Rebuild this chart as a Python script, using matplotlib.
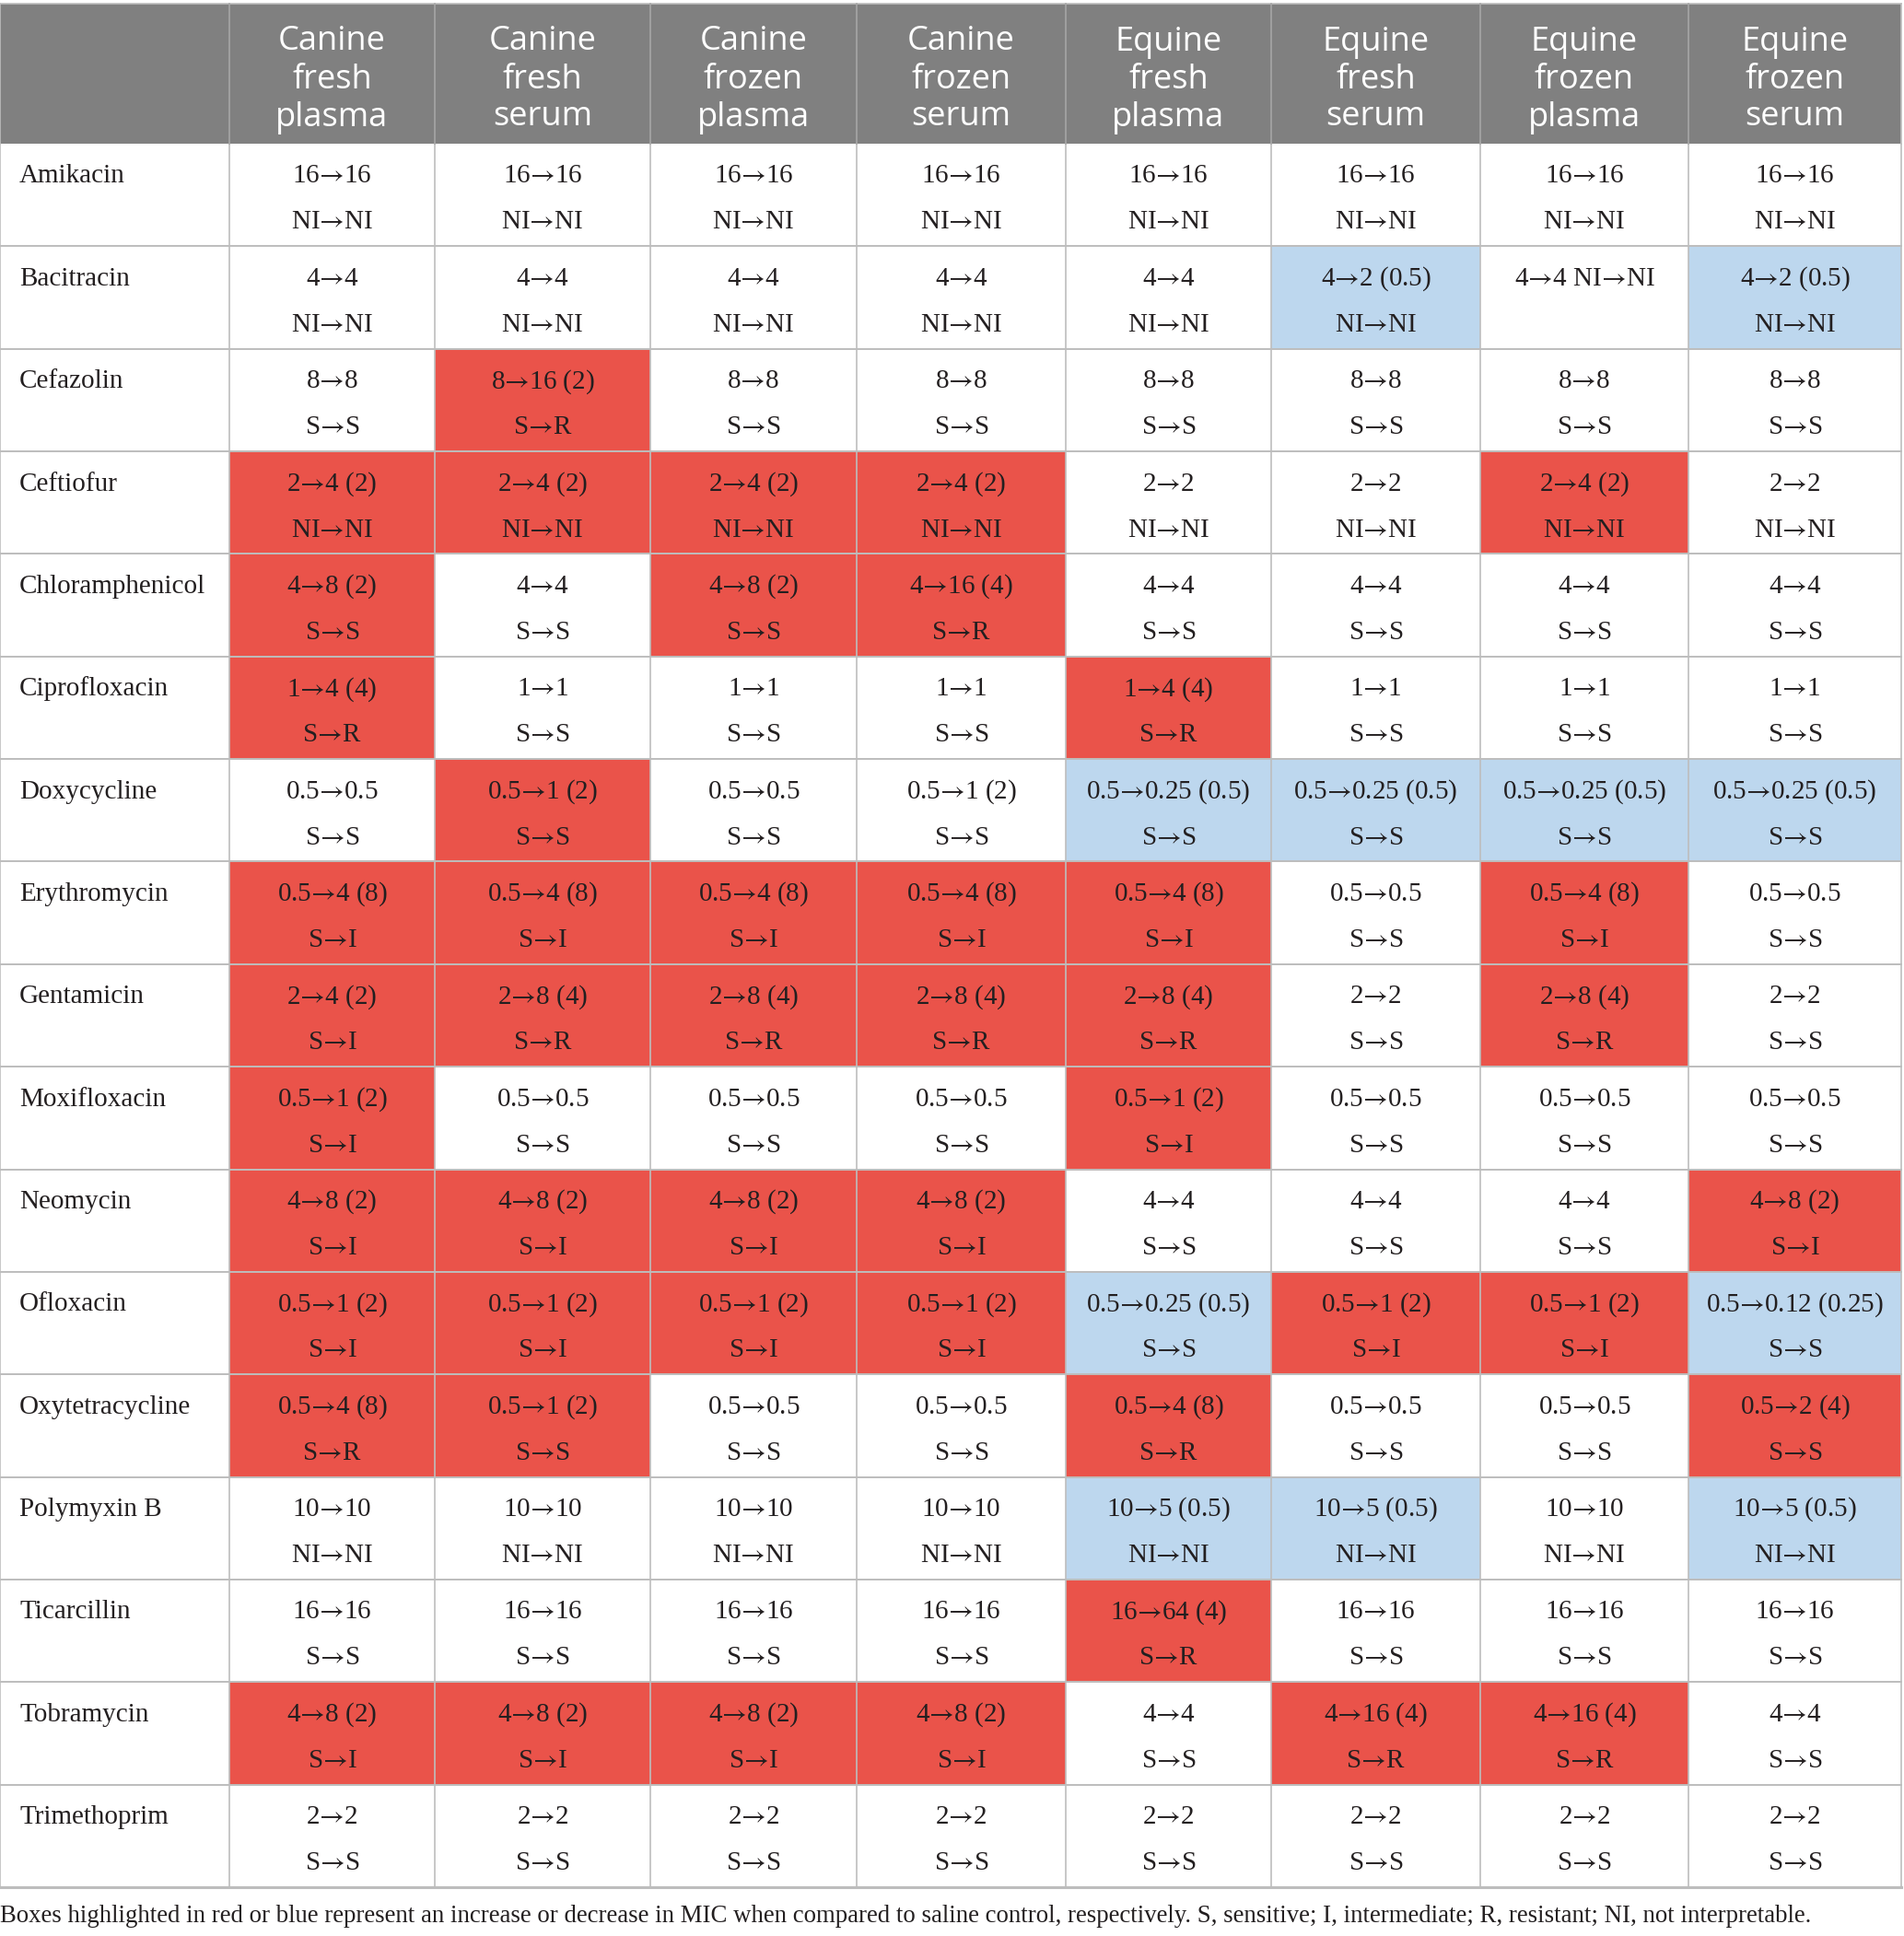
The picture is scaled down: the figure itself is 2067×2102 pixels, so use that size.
import matplotlib
matplotlib.use("Agg")
import matplotlib.pyplot as plt
from matplotlib.patches import Rectangle

plt.rcParams["mathtext.fontset"] = "stix"
plt.rcParams["mathtext.default"] = "rm"

# column headers and row names
columns = ["Canine\nfresh\nplasma", "Canine\nfresh\nserum", "Canine\nfrozen\nplasma",
           "Canine\nfrozen\nserum", "Equine\nfresh\nplasma", "Equine\nfresh\nserum",
           "Equine\nfrozen\nplasma", "Equine\nfrozen\nserum"]
drugs = ["Amikacin", "Bacitracin", "Cefazolin", "Ceftiofur", "Chloramphenicol",
         "Ciprofloxacin", "Doxycycline", "Erythromycin", "Gentamicin", "Moxifloxacin",
         "Neomycin", "Ofloxacin", "Oxytetracycline", "Polymyxin B", "Ticarcillin",
         "Tobramycin", "Trimethoprim"]

# MIC change (first line of each cell)
mic = [
    ["16→16"] * 8,
    ["4→4", "4→4", "4→4", "4→4", "4→4", "4→2 (0.5)", "4→4 NI→NI", "4→2 (0.5)"],
    ["8→8", "8→16 (2)", "8→8", "8→8", "8→8", "8→8", "8→8", "8→8"],
    ["2→4 (2)", "2→4 (2)", "2→4 (2)", "2→4 (2)", "2→2", "2→2", "2→4 (2)", "2→2"],
    ["4→8 (2)", "4→4", "4→8 (2)", "4→16 (4)", "4→4", "4→4", "4→4", "4→4"],
    ["1→4 (4)", "1→1", "1→1", "1→1", "1→4 (4)", "1→1", "1→1", "1→1"],
    ["0.5→0.5", "0.5→1 (2)", "0.5→0.5", "0.5→1 (2)", "0.5→0.25 (0.5)",
     "0.5→0.25 (0.5)", "0.5→0.25 (0.5)", "0.5→0.25 (0.5)"],
    ["0.5→4 (8)", "0.5→4 (8)", "0.5→4 (8)", "0.5→4 (8)", "0.5→4 (8)", "0.5→0.5",
     "0.5→4 (8)", "0.5→0.5"],
    ["2→4 (2)", "2→8 (4)", "2→8 (4)", "2→8 (4)", "2→8 (4)", "2→2", "2→8 (4)", "2→2"],
    ["0.5→1 (2)", "0.5→0.5", "0.5→0.5", "0.5→0.5", "0.5→1 (2)", "0.5→0.5", "0.5→0.5",
     "0.5→0.5"],
    ["4→8 (2)", "4→8 (2)", "4→8 (2)", "4→8 (2)", "4→4", "4→4", "4→4", "4→8 (2)"],
    ["0.5→1 (2)", "0.5→1 (2)", "0.5→1 (2)", "0.5→1 (2)", "0.5→0.25 (0.5)", "0.5→1 (2)",
     "0.5→1 (2)", "0.5→0.12 (0.25)"],
    ["0.5→4 (8)", "0.5→1 (2)", "0.5→0.5", "0.5→0.5", "0.5→4 (8)", "0.5→0.5", "0.5→0.5",
     "0.5→2 (4)"],
    ["10→10", "10→10", "10→10", "10→10", "10→5 (0.5)", "10→5 (0.5)", "10→10",
     "10→5 (0.5)"],
    ["16→16", "16→16", "16→16", "16→16", "16→64 (4)", "16→16", "16→16", "16→16"],
    ["4→8 (2)", "4→8 (2)", "4→8 (2)", "4→8 (2)", "4→4", "4→16 (4)", "4→16 (4)", "4→4"],
    ["2→2"] * 8,
]

# interpretation change (second line of each cell)
interp = [
    ["NI→NI"] * 8,
    ["NI→NI"] * 6 + ["", "NI→NI"],
    ["S→S", "S→R", "S→S", "S→S", "S→S", "S→S", "S→S", "S→S"],
    ["NI→NI"] * 8,
    ["S→S", "S→S", "S→S", "S→R", "S→S", "S→S", "S→S", "S→S"],
    ["S→R", "S→S", "S→S", "S→S", "S→R", "S→S", "S→S", "S→S"],
    ["S→S"] * 8,
    ["S→I", "S→I", "S→I", "S→I", "S→I", "S→S", "S→I", "S→S"],
    ["S→I", "S→R", "S→R", "S→R", "S→R", "S→S", "S→R", "S→S"],
    ["S→I", "S→S", "S→S", "S→S", "S→I", "S→S", "S→S", "S→S"],
    ["S→I", "S→I", "S→I", "S→I", "S→S", "S→S", "S→S", "S→I"],
    ["S→I", "S→I", "S→I", "S→I", "S→S", "S→I", "S→I", "S→S"],
    ["S→R", "S→S", "S→S", "S→S", "S→R", "S→S", "S→S", "S→S"],
    ["NI→NI"] * 8,
    ["S→S", "S→S", "S→S", "S→S", "S→R", "S→S", "S→S", "S→S"],
    ["S→I", "S→I", "S→I", "S→I", "S→S", "S→R", "S→R", "S→S"],
    ["S→S"] * 8,
]

# highlight: r = increase (red), b = decrease (blue), . = none
highlight = [
    "........",
    ".....b.b",
    ".r......",
    "rrrr..r.",
    "r.rr....",
    "r...r...",
    ".r..bbbb",
    "rrrrr.r.",
    "rrrrr.r.",
    "r...r...",
    "rrrr...r",
    "rrrrbrrb",
    "rr..r..r",
    "....bb.b",
    "....r...",
    "rrrr.rr.",
    "........",
]

footnote = ("Boxes highlighted in red or blue represent an increase or decrease in MIC when "
            "compared to saline control, respectively. S, sensitive; I, intermediate; "
            "R, resistant; NI, not interpretable.")

fill_colors = {"r": "#EA534A", "b": "#BDD7EE", ".": "white"}
header_color = "#808080"
grid_color = "#BDBDBD"
text_color = "#231F20"
serif = ["Liberation Serif", "DejaVu Serif"]
sans = ["Open Sans", "DejaVu Sans"]


def cell_text(s):
    # the long arrow comes from the STIX math font, like the printed table
    return s.replace("→", "$→$")


# layout in pixels
W, H = 2067, 2102
col_edges = [0, 249, 472, 706, 930, 1157, 1380, 1607, 1833, 2064]
head_top, head_bot = 4, 156
row_h = (2049 - head_bot) / len(drugs)

fig = plt.figure(figsize=(W / 100, H / 100), dpi=100)
ax = fig.add_axes([0, 0, 1, 1])
ax.set_xlim(0, W)
ax.set_ylim(H, 0)
ax.axis("off")

# header
ax.add_patch(Rectangle((col_edges[0], head_top), col_edges[-1] - col_edges[0],
                       head_bot - head_top, color=header_color, lw=0))
for j, name in enumerate(columns):
    cx = (col_edges[j + 1] + col_edges[j + 2]) / 2
    for k, word in enumerate(name.split("\n")):
        ax.text(cx, 54.5 + 41 * k, word, ha="center", va="baseline", color="white",
                fontsize=26, family=sans)

# body
for i, drug in enumerate(drugs):
    top = head_bot + i * row_h
    for j in range(len(columns)):
        x0, x1 = col_edges[j + 1], col_edges[j + 2]
        ax.add_patch(Rectangle((x0, top), x1 - x0, row_h,
                               color=fill_colors[highlight[i][j]], lw=0))
        cx = (x0 + x1) / 2
        ax.text(cx, top + 42.5, cell_text(mic[i][j]), ha="center", va="baseline",
                color=text_color, fontsize=21, family=serif)
        if interp[i][j]:
            ax.text(cx, top + 92.5, cell_text(interp[i][j]), ha="center",
                    va="baseline", color=text_color, fontsize=21, family=serif)
    ax.text(21, top + 42.5, drug, ha="left", va="baseline", color=text_color,
            fontsize=21, family=serif)

# grid lines
bottom = head_bot + len(drugs) * row_h
ax.plot([0, col_edges[-1]], [head_top, head_top], color=grid_color, lw=1.2)
for i in range(1, len(drugs)):
    y = head_bot + i * row_h
    ax.plot([0, col_edges[-1]], [y, y], color=grid_color, lw=1.4)
ax.plot([0, col_edges[-1]], [bottom, bottom], color=grid_color, lw=2.2)
for x in col_edges:
    ax.plot([x, x], [head_bot, bottom], color=grid_color, lw=1.2)
for x in col_edges[1:-1]:
    ax.plot([x, x], [head_top, head_bot], color="#A6A6A6", lw=1.2)
for x in (col_edges[0], col_edges[-1]):
    ax.plot([x, x], [head_top, head_bot], color=grid_color, lw=1.2)

ax.text(0, 2087, footnote, ha="left", va="baseline", color=text_color,
        fontsize=19.3, family=serif)

fig.savefig("out.png", dpi=100)
